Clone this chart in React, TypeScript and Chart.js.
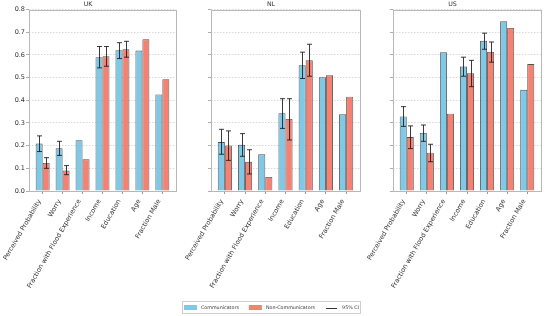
import React, { useEffect, useRef } from 'react';
import { Chart, registerables } from 'chart.js';
Chart.register(...registerables);

const FONT = "'DejaVu Sans', sans-serif";

const categories = ['Perceived Probability', 'Worry', 'Fraction with Flood Experience', 'Income', 'Education', 'Age', 'Fraction Male'];
const yTicks = [0, 0.1, 0.2, 0.3, 0.4, 0.5, 0.6, 0.7, 0.8];
const legendLabels = ['Communicators', 'Non-Communicators', '95% CI'];

// UK
const ukComm = [0.209, 0.188, 0.224, 0.590, 0.621, 0.619, 0.426];
const ukCommLo = [0.174, 0.157, null, 0.543, 0.584, null, null];
const ukCommHi = [0.243, 0.219, null, 0.637, 0.654, null, null];
const ukNon = [0.124, 0.090, 0.140, 0.594, 0.625, 0.669, 0.493];
const ukNonLo = [0.100, 0.072, null, 0.550, 0.590, null, null];
const ukNonHi = [0.147, 0.112, null, 0.637, 0.660, null, null];

// NL
const nlComm = [0.216, 0.204, 0.162, 0.343, 0.554, 0.501, 0.338];
const nlCommLo = [0.162, 0.153, null, 0.276, 0.496, null, null];
const nlCommHi = [0.272, 0.253, null, 0.407, 0.612, null, null];
const nlNon = [0.201, 0.129, 0.062, 0.318, 0.576, 0.510, 0.416];
const nlNonLo = [0.135, 0.075, null, 0.225, 0.506, null, null];
const nlNonHi = [0.265, 0.182, null, 0.407, 0.647, null, null];

// US
const usComm = [0.329, 0.256, 0.612, 0.549, 0.662, 0.749, 0.446];
const usCommLo = [0.285, 0.219, null, 0.506, 0.625, null, null];
const usCommHi = [0.372, 0.291, null, 0.590, 0.696, null, null];
const usNon = [0.238, 0.169, 0.341, 0.519, 0.613, 0.719, 0.560];
const usNonLo = [0.187, 0.129, null, 0.460, 0.568, null, null];
const usNonHi = [0.287, 0.206, null, 0.576, 0.657, null, null];

const BLUE = 'rgba(120,198,230,0.95)';
const RED = 'rgba(246,122,108,0.95)';
const EDGE = 'rgba(50,50,50,0.85)';

type PanelProps = {
  title: string;
  comm: number[]; commLo: (number | null)[]; commHi: (number | null)[];
  non: number[]; nonLo: (number | null)[]; nonHi: (number | null)[];
  left: number; showY: boolean; padRight: number; legend?: boolean;
};

const PLOT_BOTTOM = 191;

function Panel(p: PanelProps) {
  const ref = useRef<HTMLCanvasElement>(null);
  const canvasH = p.legend ? 316 : 300;
  useEffect(() => {
    const errPlugin = {
      id: 'errbars',
      afterDatasetsDraw(chart: any) {
        const ctx = chart.ctx;
        const ys = chart.scales.y;
        [[p.commLo, p.commHi], [p.nonLo, p.nonHi]].forEach(([lo, hi], di) => {
          const meta = chart.getDatasetMeta(di);
          meta.data.forEach((el: any, i: number) => {
            const l = lo[i]; const h = hi[i];
            if (l == null || h == null) return;
            const x = Math.round(el.x) + 0.5;
            const y1 = ys.getPixelForValue(l);
            const y2 = ys.getPixelForValue(h);
            ctx.save();
            ctx.strokeStyle = 'rgba(25,25,25,0.85)';
            ctx.lineWidth = 1;
            ctx.beginPath();
            ctx.moveTo(x, y1); ctx.lineTo(x, y2);
            ctx.moveTo(x - 2.5, y1); ctx.lineTo(x + 2.5, y1);
            ctx.moveTo(x - 2.5, y2); ctx.lineTo(x + 2.5, y2);
            ctx.stroke();
            ctx.restore();
          });
        });
      },
      afterDraw(chart: any) {
        const { left, right, top, bottom } = chart.chartArea;
        const ctx = chart.ctx;
        ctx.save();
        ctx.strokeStyle = '#b8b8b8';
        ctx.lineWidth = 1;
        ctx.strokeRect(Math.round(left) + 0.5, Math.round(top) + 0.5, Math.round(right - left), Math.round(bottom - top));
        ctx.restore();
        if (p.legend) {
          // figure legend, below the panels
          const bx = 0.5, by = 301.5, bw = 178, bh = 12;
          ctx.save();
          ctx.strokeStyle = '#d0d0d0';
          ctx.lineWidth = 1;
          ctx.strokeRect(bx, by, bw, bh);
          ctx.font = `4.8px ${FONT}`;
          ctx.textBaseline = 'middle';
          ctx.fillStyle = '#333';
          const patchW = 13, gapPT = 4, gapItem = 10;
          const widths = legendLabels.map((t) => ctx.measureText(t).width);
          const total = widths.reduce((a, b) => a + b, 0) + 3 * (patchW + gapPT) + 2 * gapItem;
          let x = bx + (bw - total) / 2;
          const cy = by + bh / 2;
          const swatches = [BLUE, RED, null];
          legendLabels.forEach((t, i) => {
            const c = swatches[i];
            if (c) {
              ctx.fillStyle = c;
              ctx.fillRect(x, cy - 2.5, patchW, 5);
            } else {
              ctx.strokeStyle = '#333';
              ctx.beginPath();
              ctx.moveTo(x + 1, Math.round(cy) + 0.5);
              ctx.lineTo(x + patchW - 1, Math.round(cy) + 0.5);
              ctx.stroke();
            }
            x += patchW + gapPT;
            ctx.fillStyle = '#333';
            ctx.fillText(t, x, cy + 0.3);
            x += widths[i] + gapItem;
          });
          ctx.restore();
        }
      },
    };
    const chart = new Chart(ref.current as HTMLCanvasElement, {
      type: 'bar',
      data: {
        datasets: [
          {
            label: 'Communicators',
            data: p.comm.map((v, i) => ({ x: i, y: v })),
            backgroundColor: BLUE, borderColor: EDGE, borderWidth: 0.9,
            categoryPercentage: 0.7, barPercentage: 1.0,
          },
          {
            label: 'Non-Communicators',
            data: p.non.map((v, i) => ({ x: i, y: v })),
            backgroundColor: RED, borderColor: EDGE, borderWidth: 0.9,
            categoryPercentage: 0.7, barPercentage: 1.0,
          },
        ],
      },
      options: {
        responsive: false,
        animation: false,
        layout: { padding: { left: 0, right: p.padRight, top: 0, bottom: 0 } },
        plugins: {
          legend: { display: false },
          tooltip: { enabled: false },
          title: {
            display: true, text: p.title, color: '#333',
            font: { family: FONT, size: 6.3, weight: 'normal' },
            padding: { top: 1, bottom: 1 },
          },
        },
        scales: {
          x: {
            type: 'linear', min: -0.685, max: 6.685, offset: false,
            afterBuildTicks: (s: any) => { s.ticks = categories.map((_, i) => ({ value: i })); },
            afterFit: (s: any) => { s.height = canvasH - PLOT_BOTTOM; },
            ticks: {
              autoSkip: false, minRotation: 60, maxRotation: 60, padding: 4, labelOffset: -3,
              color: '#333', font: { family: FONT, size: 6.6 },
              callback: (v: any) => categories[v as number] ?? '',
            },
            grid: { display: true, drawOnChartArea: false, drawTicks: true, tickLength: 3, color: '#999', offset: false },
            border: { display: false },
          },
          y: {
            min: 0, max: 0.8,
            afterBuildTicks: (s: any) => { s.ticks = yTicks.map((v) => ({ value: v })); },
            afterFit: (s: any) => { s.width = 29; },
            ticks: {
              padding: 1, color: '#333', font: { family: FONT, size: 6.5 },
              callback: (v: any) => (p.showY ? Number(v).toFixed(1) : ''),
            },
            grid: { color: '#cfcfcf', lineWidth: 0.8, tickLength: 3, tickColor: '#999', tickBorderDash: [] },
            border: { display: false, dash: [1.5, 1.5] },
          },
        },
      } as any,
      plugins: [errPlugin],
    });
    return () => chart.destroy();
  }, []);
  return (
    <canvas ref={ref} width={182} height={canvasH}
      style={{ position: 'absolute', left: p.left, top: 0, width: 182, height: canvasH }} />
  );
}

export default function App() {
  return (
    <div style={{ position: 'absolute', left: 0, top: 0, width: 546, height: 316, background: '#fff', overflow: 'hidden' }}>
      <Panel title="UK" comm={ukComm} commLo={ukCommLo} commHi={ukCommHi} non={ukNon} nonLo={ukNonLo} nonHi={ukNonHi} left={0} showY={true} padRight={6} />
      <Panel title="US" comm={usComm} commLo={usCommLo} commHi={usCommHi} non={usNon} nonLo={usNonLo} nonHi={usNonHi} left={364} showY={false} padRight={5} />
      <Panel title="NL" comm={nlComm} commLo={nlCommLo} commHi={nlCommHi} non={nlNon} nonLo={nlNonLo} nonHi={nlNonHi} left={182} showY={false} padRight={4} legend={true} />
    </div>
  );
}
